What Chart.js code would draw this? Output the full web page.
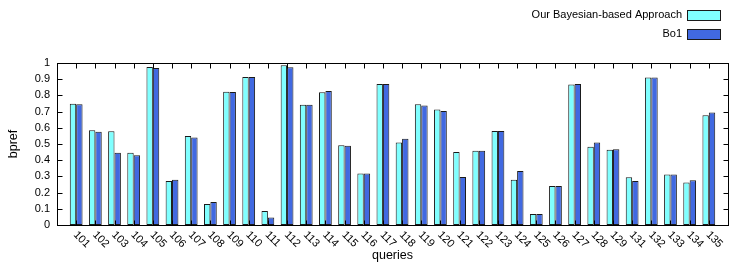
<!DOCTYPE html>
<html>
<head>
<meta charset="utf-8">
<script src="https://cdn.jsdelivr.net/npm/chart.js@4.4.1/dist/chart.umd.min.js"></script>
<style>
    body { margin: 0; background: #fff; }
    canvas { display: block; }
</style>
</head>
<body>
<canvas id="grafico" width="746" height="262"></canvas>
<script>

const queries = ['101','102','103','104','105','106','107','108','109','110',
                 '111','112','113','114','115','116','117','118','119','120',
                 '121','122','123','124','125','126','127','128','129','131',
                 '132','133','134','135'];

const bayesian = [0.749, 0.585, 0.579, 0.446, 0.975, 0.271, 0.550, 0.129, 0.823, 0.914,
                  0.086, 0.986, 0.743, 0.819, 0.493, 0.318, 0.871, 0.509, 0.745, 0.713,
                  0.450, 0.458, 0.581, 0.279, 0.068, 0.240, 0.867, 0.483, 0.464, 0.294,
                  0.910, 0.312, 0.263, 0.678];

const bo1 = [0.745, 0.575, 0.446, 0.431, 0.969, 0.279, 0.540, 0.142, 0.821, 0.914,
             0.047, 0.973, 0.743, 0.827, 0.489, 0.318, 0.871, 0.532, 0.737, 0.704,
             0.296, 0.458, 0.581, 0.333, 0.068, 0.240, 0.871, 0.509, 0.468, 0.271,
             0.910, 0.312, 0.277, 0.694];

const yTicks = [0, 0.1, 0.2, 0.3, 0.4, 0.5, 0.6, 0.7, 0.8, 0.9, 1];

const fuente = '"Liberation Sans", Arial, sans-serif';

// marco, ticks hacia adentro, etiquetas giradas y leyenda (estilo gnuplot)
const marco = {
    id: 'marco',
    afterDatasetsDraw(chart) {
        const ctx = chart.ctx;
        const a = chart.chartArea;
        const x = chart.scales.x;
        const y = chart.scales.y;
        const L = Math.round(a.left) + 0.5, R = Math.round(a.right) + 0.5;
        const T = Math.round(a.top) + 0.5, B = Math.round(a.bottom) + 0.5;

        ctx.save();
        ctx.strokeStyle = '#000';
        ctx.lineWidth = 1;
        ctx.beginPath();
        queries.forEach((q, i) => {
            const px = Math.round(x.getPixelForValue(i)) + 0.5;
            ctx.moveTo(px, B); ctx.lineTo(px, B - 5);
            ctx.moveTo(px, T); ctx.lineTo(px, T + 5);
        });
        yTicks.forEach(v => {
            const py = Math.round(y.getPixelForValue(v)) + 0.5;
            ctx.moveTo(L, py); ctx.lineTo(L + 5, py);
            ctx.moveTo(R, py); ctx.lineTo(R - 5, py);
        });
        ctx.stroke();
        ctx.strokeRect(L, T, R - L, B - T);

        ctx.fillStyle = '#000';
        ctx.font = '11px ' + fuente;
        ctx.textAlign = 'left';
        ctx.textBaseline = 'middle';
        queries.forEach((q, i) => {
            ctx.save();
            ctx.translate(x.getPixelForValue(i) - 1, a.bottom + 8);
            ctx.rotate(Math.PI / 4);
            ctx.fillText(q, 0, 0);
            ctx.restore();
        });

        // leyenda
        ctx.textAlign = 'right';
        chart.data.datasets.forEach((ds, k) => {
            const cy = 14.5 + k * 19.5;
            ctx.fillStyle = '#000';
            ctx.fillText(ds.label, 682, cy);
            ctx.fillStyle = ds.backgroundColor;
            ctx.fillRect(687, Math.round(cy - 5), 34, 11);
            ctx.strokeStyle = ds.borderColor;
            ctx.strokeRect(687.5, Math.round(cy - 5) + 0.5, 33, 10);
        });
        ctx.restore();
    }
};

new Chart(document.getElementById('grafico'), {
    type: 'bar',
    data: {
        datasets: [
            {
                label: 'Our Bayesian-based Approach',
                data: bayesian.map((v, i) => ({ x: i, y: v })),
                backgroundColor: '#80ffff',
                borderColor: '#1a1a1a',
                borderWidth: 1,
                borderSkipped: false
            },
            {
                label: 'Bo1',
                data: bo1.map((v, i) => ({ x: i, y: v })),
                backgroundColor: '#4169e1',
                borderColor: '#1a1a1a',
                borderWidth: 1,
                borderSkipped: false
            }
        ]
    },
    options: {
        responsive: false,
        animation: false,
        categoryPercentage: 2 / 3,
        barPercentage: 1,
        layout: { padding: { left: 0, top: 63, right: 18, bottom: 0 } },
        plugins: {
            legend: { display: false },
            tooltip: { enabled: false }
        },
        scales: {
            x: {
                type: 'linear',
                min: -1,
                max: 34,
                offset: false,
                grid: { display: false, drawTicks: false },
                border: { display: false },
                ticks: { display: false },
                title: {
                    display: true,
                    text: 'queries',
                    color: '#000',
                    padding: 0,
                    font: { family: fuente, size: 12.5, lineHeight: 1 }
                },
                afterFit(s) { s.height = 37; }
            },
            y: {
                min: 0,
                max: 1,
                afterBuildTicks(s) { s.ticks = yTicks.map(v => ({ value: v })); },
                grid: { display: false, drawTicks: false },
                border: { display: false },
                ticks: {
                    padding: 7,
                    color: '#000',
                    font: { family: fuente, size: 11 },
                    callback: v => String(v)
                },
                title: {
                    display: true,
                    text: 'bpref',
                    color: '#000',
                    padding: { top: 7, bottom: 0 },
                    font: { family: fuente, size: 12.5, lineHeight: 1 }
                },
                afterFit(s) { s.width = 57; }
            }
        }
    },
    plugins: [marco]
});
</script>
</body>
</html>
